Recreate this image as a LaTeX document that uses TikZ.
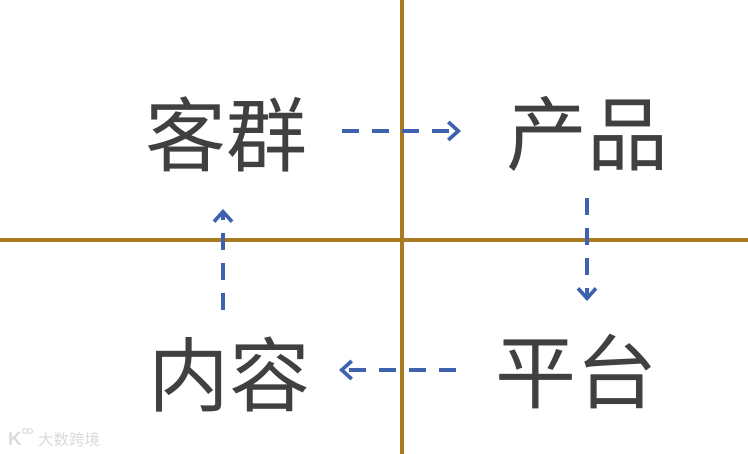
\documentclass[tikz,border=0pt]{standalone}
\usepackage{fontspec}
\usetikzlibrary{arrows.meta}
\newfontfamily\cjk{Noto Sans CJK SC}
\definecolor{axisc}{HTML}{A87B22}
\definecolor{arrowc}{HTML}{3F62AE}
\definecolor{textc}{HTML}{404040}
\definecolor{wmc}{HTML}{DADADA}
\tikzset{
  axisline/.style={axisc,line width=4pt},
  lbl/.style={text=textc,font=\cjk\fontsize{81}{81}\selectfont,inner sep=0pt},
  flow/.style={arrowc,line width=3.6pt,dash pattern=on 17pt off 13pt,-{Straight Barb[length=10pt,width=18pt,line width=3.6pt]}},
}
\begin{document}
\begin{tikzpicture}[x=1pt,y=-1pt]
\useasboundingbox (0,0) rectangle (748,454);
\draw[axisline] (402,0) -- (402,454);
\draw[axisline] (0,240) -- (748,240);
\node[lbl] (kq) at (226,134) {客群};
\node[lbl] (cp) at (587,134) {产品};
\node[lbl] (pt) at (576,372) {平台};
\node[lbl] (nr) at (229,375) {内容};
\coordinate (a1) at (342,131); \coordinate (a2) at (461,131);
\coordinate (b1) at (587,198); \coordinate (b2) at (587,301);
\coordinate (c1) at (456,370); \coordinate (c2) at (339,370);
\coordinate (d1) at (223,310); \coordinate (d2) at (223,209);
\draw[flow] (a1) -- (a2);
\draw[flow] (b1) -- (b2);
\draw[flow] (c1) -- (c2);
\draw[flow] (d1) -- (d2);
\node[font=\cjk\fontsize{15.5}{15.5}\selectfont,text=wmc,inner sep=0pt] (wm) at (69,440) {大数跨境};
\node[font=\sffamily\bfseries\fontsize{19}{19}\selectfont,text=wmc,inner sep=0pt] (wk) at (15,439) {K};
\draw[wmc,line width=1pt] (25,431) circle (2.5pt) (30,431) circle (2.5pt);
\end{tikzpicture}
\end{document}
